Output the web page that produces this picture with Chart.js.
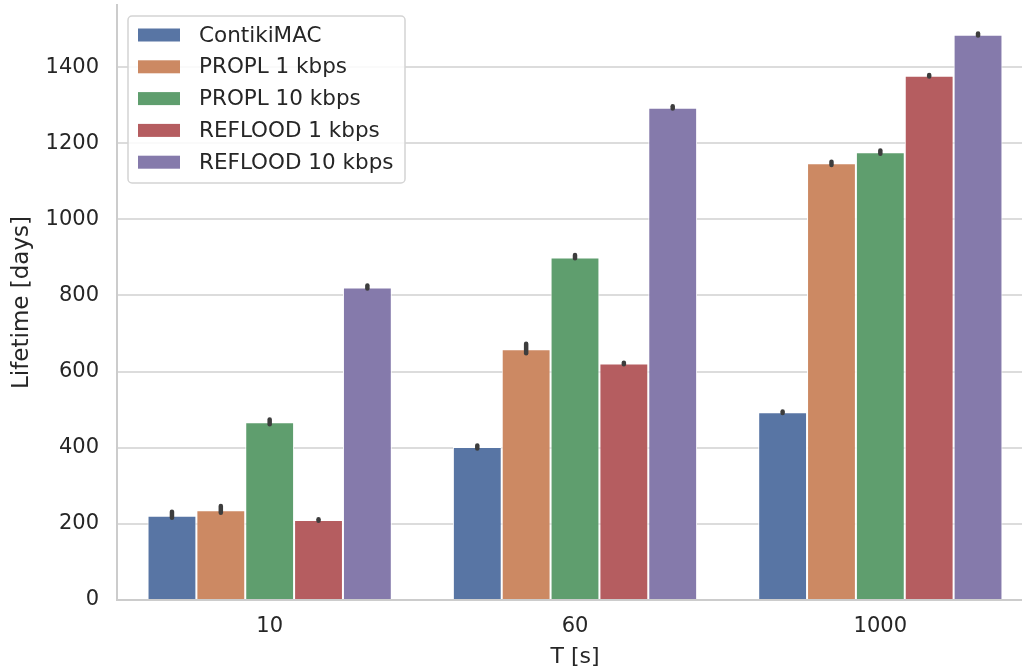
<!DOCTYPE html>
<html>
<head>
<meta charset="utf-8">
<script src="https://cdn.jsdelivr.net/npm/chart.js@4"></script>
<style>
  html, body { margin: 0; padding: 0; background: #fff; }
  #wrap { width: 1022px; height: 671px; position: relative; overflow: hidden; }
</style>
</head>
<body>
<div id="wrap"><canvas id="lifetimeChart" width="1034" height="671"></canvas></div>
<script>
// Data
const categories = ['10', '60', '1000'];
const seriesNames = ['ContikiMAC', 'PROPL 1 kbps', 'PROPL 10 kbps', 'REFLOOD 1 kbps', 'REFLOOD 10 kbps'];
const contikiMac = [221, 402, 493];
const propl1 = [236, 659, 1147];
const propl10 = [467, 900, 1176];
const reflood1 = [210, 621, 1377];
const reflood10 = [821, 1293, 1485];
// error bar ranges (low / high) per series
const errLow = [
    [216, 398, 491],
    [229, 648, 1143],
    [462, 898, 1172],
    [208, 619, 1375],
    [818, 1291, 1483]
];
const errHigh = [
    [232, 406, 495],
    [247, 673, 1151],
    [474, 906, 1181],
    [212, 623, 1379],
    [826, 1297, 1488]
];
const yTicks = [0, 200, 400, 600, 800, 1000, 1200, 1400];

const colors = ['#5875a4', '#cc8963', '#5f9e6e', '#b55d60', '#857aab'];
const textColor = '#262626';
const fontFamily = '"DejaVu Sans", sans-serif';

const seriesValues = [contikiMac, propl1, propl10, reflood1, reflood10];

// Error bars drawn at each bar's center
const errorBars = {
    id: 'errorBars',
    afterDatasetsDraw(chart) {
        const ctx = chart.ctx;
        const y = chart.scales.y;
        ctx.save();
        ctx.strokeStyle = '#3d3d3d';
        ctx.lineWidth = 4.5;
        ctx.lineCap = 'round';
        chart.data.datasets.forEach((ds, i) => {
            const meta = chart.getDatasetMeta(i);
            meta.data.forEach((bar, j) => {
                const y1 = y.getPixelForValue(errLow[i][j]);
                const y2 = y.getPixelForValue(errHigh[i][j]);
                ctx.beginPath();
                ctx.moveTo(bar.x, y1);
                ctx.lineTo(bar.x, y2);
                ctx.stroke();
            });
        });
        ctx.restore();
    }
};

// Legend box in the upper left of the plot
const insideLegend = {
    id: 'insideLegend',
    afterDraw(chart) {
        const ctx = chart.ctx;
        const area = chart.chartArea;
        const x0 = area.left + 11, y0 = 16, w = 277, h = 167;
        ctx.save();
        ctx.fillStyle = 'rgba(255,255,255,0.85)';
        ctx.strokeStyle = '#d4d4d4';
        ctx.lineWidth = 1.5;
        ctx.beginPath();
        ctx.roundRect(x0, y0, w, h, 4);
        ctx.fill();
        ctx.stroke();
        ctx.font = '21.5px ' + fontFamily;
        ctx.textBaseline = 'middle';
        chart.data.datasets.forEach((ds, i) => {
            const cy = y0 + 19 + i * 31.8;
            ctx.fillStyle = ds.backgroundColor;
            ctx.fillRect(x0 + 10, cy - 6.5, 42, 13);
            ctx.fillStyle = textColor;
            ctx.fillText(ds.label, x0 + 71, cy + 1);
        });
        ctx.restore();
    }
};

function noPad(scale) {
    scale.paddingLeft = 0;
    scale.paddingRight = 0;
    scale.paddingTop = 0;
    scale.paddingBottom = 0;
}

new Chart(document.getElementById('lifetimeChart'), {
    type: 'bar',
    data: {
        labels: categories,
        datasets: seriesNames.map((name, i) => ({
            label: name,
            data: seriesValues[i],
            backgroundColor: colors[i],
            borderColor: '#ffffff',
            borderWidth: 1,
            categoryPercentage: 0.8,
            barPercentage: 1.0
        }))
    },
    options: {
        responsive: false,
        animation: false,
        layout: { padding: { top: 5, right: 1, left: 0, bottom: 0 } },
        plugins: {
            legend: { display: false },
            tooltip: { enabled: false }
        },
        scales: {
            x: {
                grid: { display: false, drawTicks: false },
                border: { display: true, color: '#cccccc', width: 2 },
                ticks: {
                    color: textColor,
                    font: { family: fontFamily, size: 21 },
                    padding: 14
                },
                title: {
                    display: true,
                    text: 'T [s]',
                    color: textColor,
                    font: { family: fontFamily, size: 22 },
                    padding: { top: 1, bottom: 1 }
                },
                afterFit(scale) { scale.height = 71; noPad(scale); }
            },
            y: {
                min: 0,
                max: 1563,
                grid: { color: '#dcdcdc', lineWidth: 2, drawTicks: false },
                border: { display: true, color: '#cccccc', width: 2 },
                afterBuildTicks(scale) {
                    scale.ticks = yTicks.map(v => ({ value: v }));
                },
                ticks: {
                    color: textColor,
                    font: { family: fontFamily, size: 21 },
                    padding: 18,
                    callback: v => String(v)
                },
                title: {
                    display: true,
                    text: 'Lifetime [days]',
                    color: textColor,
                    font: { family: fontFamily, size: 23 },
                    padding: { top: 8, bottom: 0 }
                },
                afterFit(scale) { scale.width = 117; noPad(scale); }
            }
        }
    },
    plugins: [errorBars, insideLegend]
});
</script>
</body>
</html>
